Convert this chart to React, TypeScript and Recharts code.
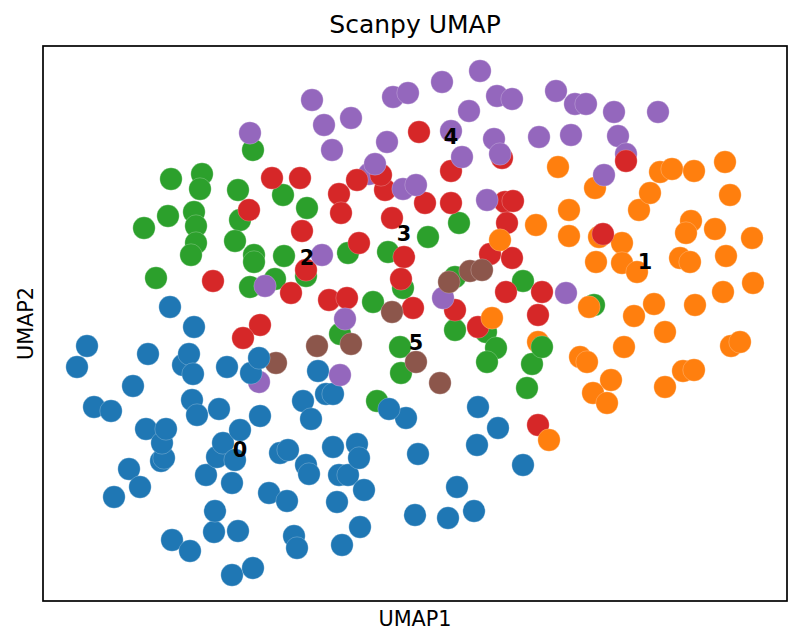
import React from 'react';
import { ScatterChart, Scatter, XAxis, YAxis } from 'recharts';

// Each cell: [UMAP1, UMAP2, layer?]  (layer > 0 = drawn above later cells)
type Cell = [number, number, number?];

const cluster0: Cell[] = [
  [7.7, 23.3], [8.7, 25.4], [9.4, 19.3], [11.1, 18.9], [11.4, 10.3], [12.9, 13.1],
  [13.3, 21.4], [14.0, 11.3], [14.6, 17.1], [14.8, 24.6], [16.1, 13.9], [16.4, 14.2],
  [16.2, 15.7], [16.6, 17.1], [17.0, 29.3], [17.2, 6.0], [18.3, 23.5], [18.9, 24.6],
  [19.0, 4.9], [19.3, 22.6], [19.2, 20.0], [19.4, 27.3], [19.7, 18.5], [20.6, 12.5],
  [21.4, 6.8], [21.5, 8.9], [21.7, 14.3], [21.9, 19.1], [22.3, 15.7], [22.7, 23.3],
  [23.2, 11.7], [23.2, 2.5], [23.5, 14.0], [23.8, 6.9], [24.0, 17.0], [25.1, 22.7, 1],
  [25.3, 3.2], [25.9, 24.2, 1], [26.0, 18.4], [26.9, 10.7], [28.0, 14.7], [28.8, 15.0],
  [28.7, 9.9], [29.4, 6.4], [29.7, 5.2], [30.3, 19.9], [30.6, 13.5], [30.9, 12.6],
  [31.1, 18.1], [31.8, 22.9], [32.6, 20.6], [33.3, 20.6], [33.3, 15.3], [33.7, 9.8],
  [33.9, 12.5], [34.2, 5.5], [34.8, 12.5], [35.7, 15.6], [35.9, 14.2], [36.0, 7.3],
  [36.4, 11.0], [38.9, 19.1, 1], [40.6, 18.2], [41.5, 8.5], [41.8, 14.6], [44.8, 8.2],
  [45.7, 11.3], [47.4, 8.9], [47.7, 15.5], [47.8, 19.3], [49.8, 17.2], [52.3, 13.5],
];

const cluster1: Cell[] = [
  [50.0, 36.0, 1], [53.6, 37.5], [53.8, 25.8], [54.9, 16.0, 1], [55.8, 43.3], [56.9, 39.0],
  [56.9, 36.4], [59.5, 41.2], [59.9, 36.3], [62.2, 35.7], [59.6, 33.8], [62.2, 33.7],
  [63.7, 32.8], [63.9, 39.0], [65.0, 40.7], [66.0, 42.8], [67.2, 43.1], [69.4, 42.9],
  [72.5, 43.8], [73.0, 40.5], [69.1, 37.9], [68.6, 36.7], [71.5, 37.1], [75.2, 36.2],
  [68.0, 34.2], [69.0, 33.8], [72.6, 34.4], [72.3, 30.8], [75.3, 31.7], [65.4, 29.6],
  [69.5, 29.5], [58.9, 29.3, 1], [63.4, 28.4], [66.5, 26.8], [62.4, 25.3], [58.0, 24.3],
  [58.7, 23.8], [61.1, 22.0], [59.3, 20.7], [60.7, 19.7], [66.5, 21.3], [68.3, 22.9],
  [69.4, 23.0], [73.1, 25.4], [74.0, 25.8], [49.2, 28.2, 1],
];

const cluster2: Cell[] = [
  [25.3, 45.0], [17.1, 42.1], [20.2, 42.6], [20.0, 41.1], [23.8, 41.0], [28.3, 40.5],
  [30.7, 39.2], [24.0, 38.0], [19.4, 38.8], [19.6, 37.4], [16.8, 38.4], [14.4, 37.2],
  [23.5, 35.9], [19.6, 35.7], [19.1, 34.5], [25.4, 34.5], [25.4, 33.8], [28.4, 34.4],
  [15.6, 32.2], [25.0, 31.3], [27.5, 32.1], [30.6, 32.4], [34.8, 34.7], [38.8, 34.8],
  [42.8, 36.3], [45.9, 37.7], [37.3, 29.8], [40.3, 31.2], [34.0, 26.6], [40.0, 25.3],
  [40.1, 22.7], [37.7, 19.9], [45.5, 32.3], [45.5, 27.0], [48.6, 26.8], [49.6, 25.2],
  [48.7, 23.8], [52.3, 31.9], [53.2, 23.6], [54.2, 25.3, 1], [52.7, 21.2], [59.4, 29.5],
];

const cluster3: Cell[] = [
  [41.9, 46.8], [45.1, 42.9], [50.2, 44.2], [62.6, 43.9, 1], [27.2, 42.2], [30.0, 42.2],
  [35.7, 42.0, 1], [38.1, 42.5, 1], [38.5, 41.0], [33.9, 40.6], [34.1, 38.7], [42.5, 39.7],
  [45.1, 39.7], [50.5, 39.8], [51.3, 39.9], [50.7, 37.7], [39.2, 38.2], [30.2, 36.9],
  [35.9, 35.7], [24.9, 39.0], [21.3, 31.9], [29.1, 30.7], [26.0, 27.5], [24.3, 26.2],
  [40.4, 34.3], [40.1, 32.1], [32.9, 30.0], [34.7, 30.2], [41.3, 29.2], [45.5, 29.0],
  [47.8, 27.3], [49.0, 34.6], [51.2, 34.2], [50.6, 30.8], [54.2, 30.8], [53.8, 28.5],
  [60.3, 36.6], [53.8, 17.5], [30.6, 33.0],
];

const cluster4: Cell[] = [
  [25.0, 46.7], [31.2, 50.0], [32.4, 47.5], [35.1, 48.2], [33.2, 45.0], [38.7, 45.8],
  [39.3, 50.3], [40.8, 50.7], [44.2, 51.8], [48.0, 52.9], [49.7, 50.4], [51.2, 50.1],
  [46.9, 48.9], [45.1, 46.9], [46.2, 44.3], [49.4, 46.1], [50.0, 44.6], [53.9, 46.3],
  [55.6, 50.9], [57.5, 49.6], [58.6, 49.6], [61.4, 48.8], [65.8, 48.8], [57.1, 46.5],
  [61.8, 46.4], [62.6, 44.6], [60.4, 42.5], [37.5, 43.6, 2], [36.9, 42.6], [40.3, 41.1],
  [41.6, 41.5], [48.7, 40.0], [26.5, 31.4], [25.9, 21.8], [32.2, 34.5], [34.5, 28.1],
  [34.0, 22.5], [44.3, 30.2], [56.6, 30.7],
];

const cluster5: Cell[] = [
  [27.6, 23.7], [31.7, 25.4], [35.1, 25.6], [39.2, 28.8], [41.6, 23.8], [44.0, 21.7],
  [47.0, 32.9], [48.2, 33.0], [44.9, 31.8],
];

const clusterNames = ['0', '1', '2', '3', '4', '5'];
const clusterColors = ['#1f77b4', '#ff7f0e', '#2ca02c', '#d62728', '#9467bd', '#8c564b'];
// Cluster label anchors (per-cluster medians in UMAP space)
const labelX = [24.0, 64.5, 30.7, 40.4, 45.1, 41.6];
const labelY = [15.0, 33.8, 34.2, 36.6, 46.3, 25.7];

const clusters = [cluster0, cluster1, cluster2, cluster3, cluster4, cluster5];

const cells = clusters
  .flatMap((pts, c) =>
    pts.map(([x, y, layer]) => ({ x, y, layer: layer ?? 0, color: clusterColors[c] }))
  )
  .sort((a, b) => a.layer - b.layer);

const labels = clusterNames.map((name, i) => ({ x: labelX[i], y: labelY[i], name }));

const W = 802;
const H = 644;
const M = { top: 46, right: 15, bottom: 43, left: 43 };
const FONT = '"DejaVu Sans", "Liberation Sans", sans-serif';

const Dot = (p: any) => (
  <circle
    cx={p.cx}
    cy={p.cy}
    r={11.2}
    fill={p.payload.color}
    stroke="#ffffff"
    strokeOpacity={0.45}
    strokeWidth={0.5}
  />
);

const ClusterLabel = (p: any) => (
  <text
    x={p.cx}
    y={p.cy}
    textAnchor="middle"
    dominantBaseline="central"
    fontFamily={FONT}
    fontWeight="bold"
    fontSize={20.8}
    fill="#000"
  >
    {p.payload.name}
  </text>
);

export default function App() {
  const plotW = W - M.left - M.right;
  const plotH = H - M.top - M.bottom;
  return (
    <div style={{ position: 'absolute', left: 0, top: 0, width: W, height: H, background: '#fff' }}>
      <ScatterChart width={W} height={H} margin={M}>
        <XAxis type="number" dataKey="x" domain={[4.3, 78.7]} hide allowDataOverflow />
        <YAxis type="number" dataKey="y" domain={[-0.1, 55.4]} hide allowDataOverflow />
        <Scatter data={cells} shape={Dot} isAnimationActive={false} />
        <Scatter data={labels} shape={ClusterLabel} isAnimationActive={false} />
      </ScatterChart>
      <svg
        width={W}
        height={H}
        style={{ position: 'absolute', left: 0, top: 0, pointerEvents: 'none' }}
      >
        <rect
          x={M.left}
          y={M.top}
          width={plotW}
          height={plotH}
          fill="none"
          stroke="#000"
          strokeWidth={1.7}
        />
        <text x={M.left + plotW / 2} y={33} textAnchor="middle" fontFamily={FONT} fontSize={25} fill="#000">
          Scanpy UMAP
        </text>
        <text x={M.left + plotW / 2} y={626} textAnchor="middle" fontFamily={FONT} fontSize={20.8} fill="#000">
          UMAP1
        </text>
        <text
          transform={`translate(33, ${M.top + plotH / 2}) rotate(-90)`}
          textAnchor="middle"
          fontFamily={FONT}
          fontSize={20.8}
          fill="#000"
        >
          UMAP2
        </text>
      </svg>
    </div>
  );
}
